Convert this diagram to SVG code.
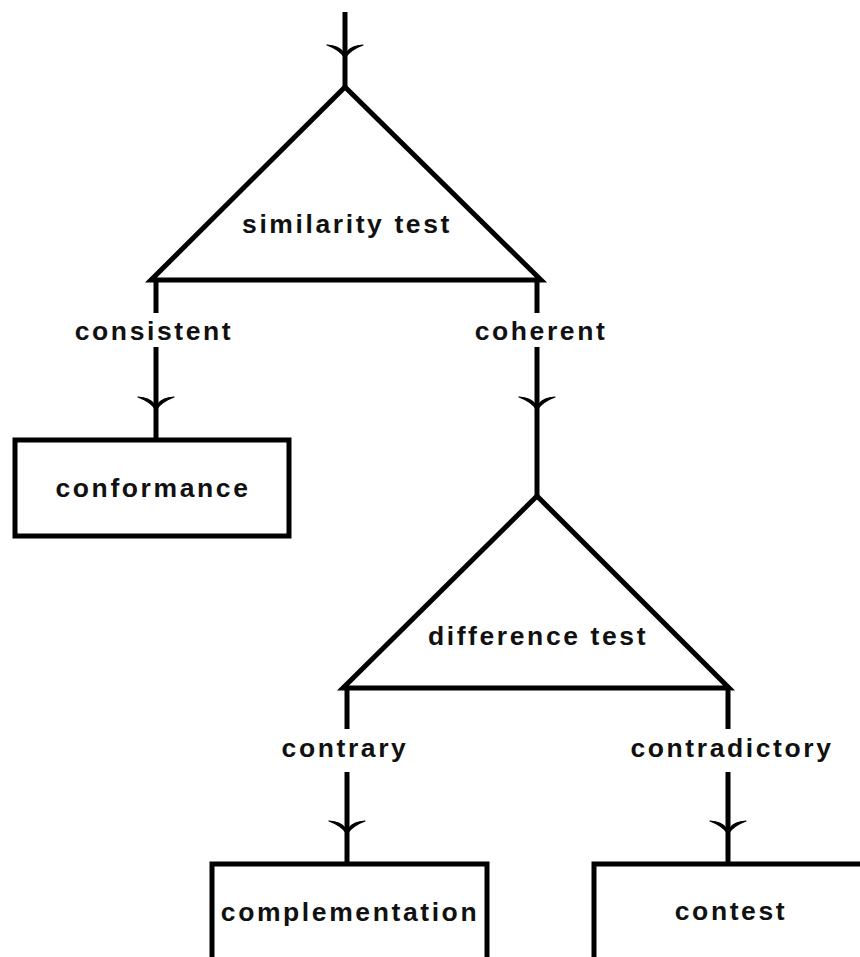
<svg xmlns="http://www.w3.org/2000/svg" width="860" height="957" viewBox="0 0 860 957">
<style>
.ln{stroke:#000;stroke-width:5;fill:none}
.sh{stroke:#000;stroke-width:5;fill:#fff;stroke-linejoin:miter}
.t{font-family:"Liberation Sans",Arial,sans-serif;font-weight:bold;font-size:26.5px;letter-spacing:2.6px;fill:#111;text-anchor:middle}
</style>
<defs>
<path id="ah" d="M0,1 C-3,-4 -10,-9 -18,-12 C-10,-11.5 -5,-9 -2.5,-5.5 L2.5,-5.5 C5,-9 10,-11.5 18,-12 C10,-9 3,-4 0,1 Z" fill="#000" stroke="#000" stroke-width="1.2" stroke-linejoin="round"/>
</defs>
<g id="connectors">
<line class="ln" x1="345" y1="12" x2="345" y2="88"/>
<use href="#ah" x="345" y="57"/>
<line class="ln" x1="156" y1="280" x2="156" y2="313"/>
<line class="ln" x1="156" y1="347" x2="156" y2="440"/>
<use href="#ah" x="156" y="409"/>
<line class="ln" x1="537" y1="280" x2="537" y2="313"/>
<line class="ln" x1="537" y1="347" x2="537" y2="496"/>
<use href="#ah" x="537" y="409"/>
<line class="ln" x1="347" y1="688" x2="347" y2="729"/>
<line class="ln" x1="347" y1="772" x2="347" y2="864"/>
<use href="#ah" x="347" y="833"/>
<line class="ln" x1="728" y1="688" x2="728" y2="729"/>
<line class="ln" x1="728" y1="772" x2="728" y2="864"/>
<use href="#ah" x="728" y="833"/>
<text class="t" x="154" y="340">consistent</text>
<text class="t" x="541" y="340">coherent</text>
<text class="t" x="345" y="757">contrary</text>
<text class="t" x="732" y="757">contradictory</text>
</g>
<g id="similarity">
<polygon class="sh" points="345,87 151,280 541,280"/>
<text class="t" x="347" y="233">similarity test</text>
</g>
<g id="conformance">
<rect class="sh" x="15" y="440" width="274" height="96"/>
<text class="t" x="153" y="497">conformance</text>
</g>
<g id="difference">
<polygon class="sh" points="537,496 343,688 729,688"/>
<text class="t" x="538" y="645">difference test</text>
</g>
<g id="complementation">
<rect class="sh" x="212" y="864" width="275" height="120"/>
<text class="t" x="350" y="921">complementation</text>
</g>
<g id="contest">
<rect class="sh" x="594" y="864" width="275" height="120"/>
<text class="t" x="731" y="920">contest</text>
</g>
</svg>
